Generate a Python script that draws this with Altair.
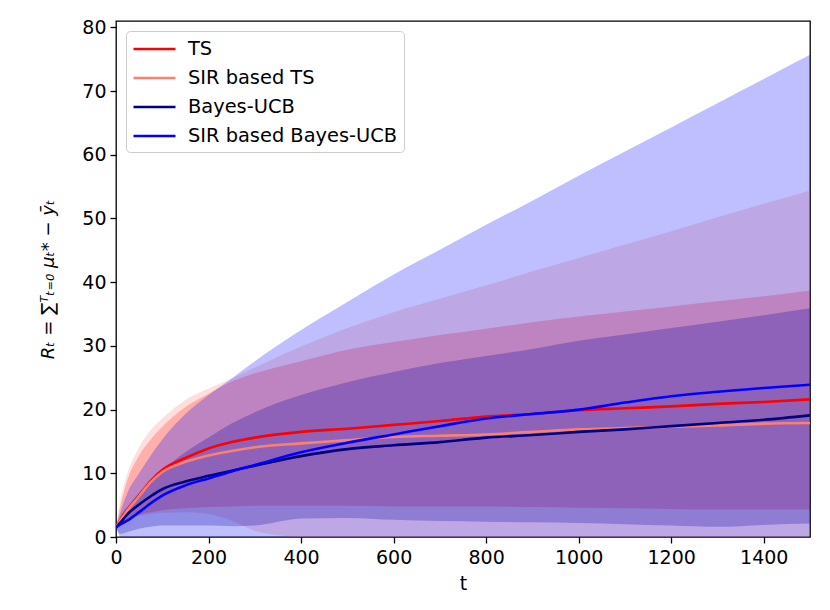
import altair as alt
import pandas as pd

# time grid
t = [0, 10, 25, 50, 75, 100, 150, 200, 250, 300, 400, 500, 600, 700, 800, 900,
     1000, 1100, 1200, 1300, 1400, 1500]

series = ["TS", "SIR based TS", "Bayes-UCB", "SIR based Bayes-UCB"]
colors = ["#ff0000", "#fa8072", "#000080", "#0000ff"]

# TS
ts_mean = [1.5, 2.8, 4.3, 6.5, 8.8, 10.5, 12.4, 13.9, 14.9, 15.6, 16.5, 17.0, 17.6, 18.2,
           18.9, 19.3, 19.9, 20.2, 20.5, 20.9, 21.2, 21.6]
ts_lo = [1.5, 2.0, 2.8, 3.5, 3.9, 4.2, 4.5, 4.7, 4.8, 4.9, 4.9, 4.9, 4.8, 4.8,
         4.8, 4.7, 4.6, 4.5, 4.4, 4.3, 4.3, 4.3]
ts_hi = [1.5, 5.0, 9.0, 12.8, 15.3, 17.3, 20.4, 22.5, 24.4, 25.7, 27.6, 29.4, 30.6, 31.7,
         32.7, 33.7, 34.6, 35.4, 36.2, 37.0, 37.8, 38.7]

# SIR based TS
sir_ts_mean = [1.5, 2.7, 4.2, 6.4, 8.6, 10.2, 11.8, 12.8, 13.5, 14.1, 14.7, 15.2, 15.7, 15.9,
               16.1, 16.5, 16.9, 17.1, 17.3, 17.5, 17.8, 17.9]
sir_ts_lo = [1.5, 1.8, 2.7, 3.3, 3.6, 3.8, 3.9, 3.6, 2.6, 1.0, -0.2, -2.4, -3.9, -5.6,
             -7.3, -8.7, -10.0, -11.7, -13.4, -15.2, -16.7, -18.6]
sir_ts_hi = [1.5, 6.0, 10.0, 14.1, 16.8, 18.6, 21.5, 23.3, 24.9, 26.6, 29.9, 32.8, 35.3, 37.4,
             39.5, 41.7, 43.8, 45.9, 48.0, 50.2, 52.3, 54.4]

# Bayes-UCB
ucb_mean = [1.5, 2.3, 3.6, 5.1, 6.4, 7.5, 8.7, 9.6, 10.4, 11.2, 12.7, 13.8, 14.4, 14.9,
            15.6, 16.0, 16.5, 16.9, 17.4, 17.9, 18.4, 19.1]
ucb_lo = [1.5, 0.5, 0.8, 1.3, 1.6, 1.8, 1.8, 1.8, 1.7, 1.8, 2.9, 3.0, 2.7, 2.5,
          2.4, 2.3, 2.2, 2.0, 1.8, 1.6, 1.9, 2.1]
ucb_hi = [1.5, 3.3, 4.8, 7.0, 8.8, 10.5, 13.3, 15.6, 17.8, 19.6, 22.3, 24.3, 25.9, 27.3,
          28.4, 29.5, 30.8, 31.8, 32.8, 33.8, 34.8, 35.9]

# SIR based Bayes-UCB
sir_ucb_mean = [1.5, 2.0, 2.6, 3.9, 5.3, 6.5, 8.1, 9.2, 10.3, 11.3, 13.3, 14.8, 16.1, 17.4,
                18.6, 19.3, 20.0, 21.1, 22.1, 22.8, 23.4, 23.9]
sir_ucb_lo = [1.5, -0.2, -1.8, -2.2, -2.2, -2.3, -3.1, -3.9, -4.3, -5.0, -5.9, -7.4, -9.0, -10.3,
              -11.8, -14.2, -16.7, -18.3, -20.1, -22.5, -25.1, -27.9]
sir_ucb_hi = [1.5, 4.0, 7.0, 10.0, 12.8, 15.3, 19.3, 22.3, 24.9, 27.6, 32.5, 36.9, 41.2, 45.1,
              49.0, 52.8, 56.7, 60.5, 64.3, 68.1, 71.9, 75.7]

means = [ts_mean, sir_ts_mean, ucb_mean, sir_ucb_mean]
los = [ts_lo, sir_ts_lo, ucb_lo, sir_ucb_lo]
his = [ts_hi, sir_ts_hi, ucb_hi, sir_ucb_hi]

rows = []
for name, m, lo, hi in zip(series, means, los, his):
    for ti, mi, l, h in zip(t, m, lo, hi):
        rows.append({"t": ti, "series": name, "mean": mi, "lo": l, "hi": h})
df = pd.DataFrame(rows)

FONT = "DejaVu Sans"
FS = 19
xscale = alt.Scale(domain=[0, 1500], nice=False)
yscale = alt.Scale(domain=[0, 81], nice=False)

xaxis = alt.Axis(values=list(range(0, 1401, 200)), format="d", title="t", grid=False,
                 domain=False, tickColor="black", tickSize=6, tickWidth=1.3,
                 labelColor="black", labelFont=FONT, labelFontSize=FS, labelPadding=5,
                 titleFont=FONT, titleFontSize=FS, titleFontWeight="normal",
                 titleColor="black", titlePadding=7, labelFlush=False)
yaxis = alt.Axis(values=list(range(0, 81, 10)), format="d", title="Rₜ = ∑ᵀₜ₌₀ μₜ* − ȳₜ",
                 grid=False, domain=False, tickColor="black", tickSize=6, tickWidth=1.3,
                 labelColor="black", labelFont=FONT, labelFontSize=FS, labelPadding=4,
                 titleFont=FONT, titleFontSize=18, titleFontWeight="normal",
                 titleFontStyle="italic", titleColor="black", titlePadding=24,
                 labelFlush=False)

layers = []
for name, col in zip(series, colors):
    band = alt.Chart(df).transform_filter(alt.datum.series == name).mark_area(
        color=col, opacity=0.25, clip=True, interpolate="monotone"
    ).encode(
        x=alt.X("t:Q", scale=xscale, axis=xaxis),
        y=alt.Y("lo:Q", scale=yscale, axis=yaxis),
        y2="hi:Q",
    )
    layers.append(band)

lines = alt.Chart(df).mark_line(strokeWidth=2.6, clip=True, interpolate="monotone").encode(
    x=alt.X("t:Q", scale=xscale, axis=xaxis),
    y=alt.Y("mean:Q", scale=yscale, axis=yaxis),
    color=alt.Color(
        "series:N",
        scale=alt.Scale(domain=series, range=colors),
        sort=series,
        legend=alt.Legend(
            orient="none", legendX=10, legendY=10, title=None,
            symbolType="M-1,0H3", symbolSize=441, symbolStrokeWidth=2.7,
            labelFont=FONT, labelFontSize=19.4, labelColor="black", labelOffset=32,
            labelLimit=400, rowPadding=7, padding=6, strokeColor="#cccccc",
            fillColor="rgba(255,255,255,0.8)", cornerRadius=4,
        ),
    ),
)
layers.append(lines)

chart = alt.layer(*layers).properties(
    width=694, height=516,
    autosize=alt.AutoSizeParams(type="none"),
    padding={"left": 108, "top": 13, "right": 10, "bottom": 70},
).configure_view(stroke="black", strokeWidth=1.3)

chart.save("out.html", embed_options={"renderer": "svg", "actions": False})
